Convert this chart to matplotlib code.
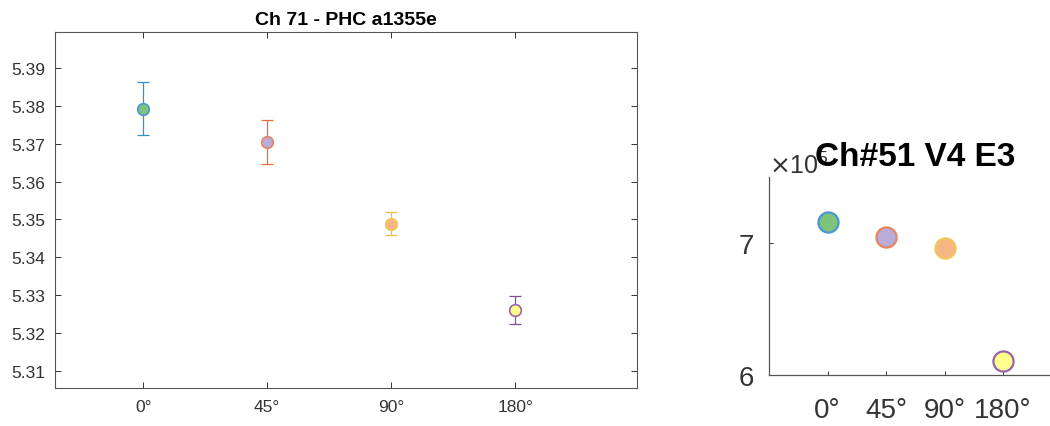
import matplotlib
matplotlib.use('Agg')
import matplotlib.pyplot as plt
from matplotlib.ticker import ScalarFormatter

plt.rcParams['font.family'] = ['Liberation Sans', 'DejaVu Sans']

# angles and positions
angles = ['0°', '45°', '90°', '180°']
xpos = [1, 2, 3, 4]

# Ch 71 - PHC a1355e: mean and error per angle
ch71_mean = [5.3793, 5.3704, 5.3489, 5.3261]
ch71_err = [0.0069, 0.0058, 0.0030, 0.0038]

# Ch#51 V4 E3 values
ch51_mean = [7.161e5, 7.048e5, 6.964e5, 6.104e5]

err_colors = ['#3D8DCB', '#E0733D', '#F0BE45', '#8C4A9C']
edge_colors = ['#4A97D2', '#E58660', '#F2C65A', '#9A62A8']
face_colors = ['#7DC47A', '#B9ADD7', '#F6B684', '#FFFF8C']

axis_grey = '#333333'

fig = plt.figure(figsize=(10.5, 4.27), dpi=100)

# ---- left panel: means with error bars ----
ax1 = fig.add_axes([0.0524, 0.089, 0.5543, 0.8337])
for i in range(len(xpos)):
    ax1.errorbar(xpos[i], ch71_mean[i], yerr=ch71_err[i], fmt='none',
                 ecolor=err_colors[i], elinewidth=0.9, capsize=4, capthick=0.9)
    ax1.plot(xpos[i], ch71_mean[i], 'o', ms=8.4, mfc=face_colors[i],
             mec=edge_colors[i], mew=1.2)
ax1.set_xlim(0.29, 4.98)
ax1.set_ylim(5.3055, 5.3995)
ax1.set_xticks(xpos)
ax1.set_xticklabels(angles)
ax1.set_yticks([5.31, 5.32, 5.33, 5.34, 5.35, 5.36, 5.37, 5.38, 5.39])
ax1.set_yticklabels(['%.2f' % v for v in ax1.get_yticks()])
ax1.tick_params(direction='in', length=4, width=0.7, colors=axis_grey,
                labelsize=12.5, top=True, right=True, pad=7)
ax1.tick_params(axis='x', pad=8)
for s in ax1.spines.values():
    s.set_color('#555555')
    s.set_linewidth(0.8)
ax1.set_title('Ch 71 - PHC a1355e', fontsize=14, fontweight='bold', y=1.0, pad=6)

# ---- right panel: large scatter, axis extends past figure edge ----
ax2 = fig.add_axes([0.7324, 0.1194, 0.2786, 0.4637])
for i in range(len(xpos)):
    ax2.plot(xpos[i], ch51_mean[i], 'o', ms=14.5, mfc=face_colors[i],
             mec=edge_colors[i], mew=1.6)
ax2.set_xlim(0, 5)
ax2.set_ylim(6e5, 7.5e5)
ax2.set_xticks(xpos)
ax2.set_xticklabels(angles)
ax2.set_yticks([6e5, 7e5])
fmt = ScalarFormatter(useMathText=True)
fmt.set_scientific(True)
fmt.set_powerlimits((0, 0))
fmt.set_useOffset(False)
ax2.yaxis.set_major_formatter(fmt)
ax2.yaxis.get_offset_text().set_fontsize(18)
ax2.yaxis.get_offset_text().set_color('#666666')
ax2.tick_params(direction='in', length=3, width=0.7, colors=axis_grey,
                labelsize=20)
ax2.tick_params(axis='x', pad=16)
ax2.tick_params(axis='y', pad=11)
ax2.spines['top'].set_visible(False)
ax2.spines['right'].set_visible(False)
for side in ['left', 'bottom']:
    ax2.spines[side].set_color('#555555')
    ax2.spines[side].set_linewidth(0.9)
ax2.set_title('Ch#51 V4 E3', fontsize=24, fontweight='bold', y=1.0, pad=9)

fig.savefig('out.png', dpi=100)
